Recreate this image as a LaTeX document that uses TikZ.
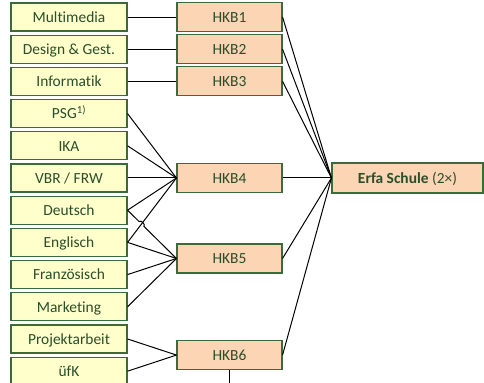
\documentclass[tikz,border=0pt]{standalone}
\usepackage{fontspec}
\setmainfont{Carlito}[Ligatures = NoCommon]
\usetikzlibrary{positioning,calc}

\definecolor{rand}{HTML}{3B6B3B}
\definecolor{schrift}{HTML}{2A4D2B}
\definecolor{gelb}{HTML}{FFFFCC}
\definecolor{lachs}{HTML}{FCD5B4}

\tikzset{fach/.style = {draw = rand, fill = gelb, line width = 1.1pt, text = schrift,
                        minimum width = 116bp, minimum height = 28bp, inner sep = 0pt,
                        text height = 11.5bp, text depth = 1bp,
                        font = \fontsize{15.5}{17}\selectfont},
         hkb/.style = {fach, fill = lachs, minimum width = 105bp, minimum height = 29bp},
         erfa/.style = {hkb, minimum width = 151bp, minimum height = 30bp},
         verb/.style = {draw, line width = 1pt}
        }

\begin{document}
\begin{tikzpicture}[x = 1bp, y = 1bp, node distance = 3.1bp]
  \useasboundingbox (0,0) rectangle (484,-382);
  \clip (0,0) rectangle (484,-382);
  % Faecher
  \node[fach] (mm) at (69,-17) {Multimedia};
  \node[fach, below = of mm]   (dg)   {Design \& Gest.};
  \node[fach, below = of dg]   (inf)  {Informatik};
  \node[fach, below = of inf]  (psg)  {PSG\textsuperscript{1)}};
  \node[fach, below = of psg]  (ika)  {IKA};
  \node[fach, below = of ika]  (vbr)  {VBR / FRW};
  \node[fach, below = of vbr]  (deu)  {Deutsch};
  \node[fach, below = of deu]  (eng)  {Englisch};
  \node[fach, below = of eng]  (fra)  {Französisch};
  \node[fach, below = of fra]  (mkt)  {Marketing};
  \node[fach, below = of mkt]  (proj) {Projektarbeit};
  \node[fach, below = of proj] (ufk)  {üfK};
  % HKB
  \node[hkb] (hkb1) at (229.5,-17 |- mm)  {HKB1};
  \node[hkb] (hkb2) at (229.5,-17 |- dg)  {HKB2};
  \node[hkb] (hkb3) at (229.5,-17 |- inf) {HKB3};
  \node[hkb] (hkb4) at (229.5,-17 |- vbr) {HKB4};
  \node[hkb] (hkb5) at ($(229.5,-17 |- eng)!0.5!(229.5,-17 |- fra)$)   {HKB5};
  \node[hkb] (hkb6) at ($(229.5,-17 |- proj)!0.5!(229.5,-17 |- ufk)$)  {HKB6};
  \node[erfa] (erfa) at (407.5,-17 |- hkb4) {\textbf{Erfa Schule} (2×)};
  \coordinate (unten) at ($(hkb6.south) + (0,-30)$);

  % Verbindungen
  \draw[verb] (mm.east) -- (hkb1.west);
  \draw[verb] (dg.east) -- (hkb2.west);
  \draw[verb] (inf.east) -- (hkb3.west);
  \foreach \f in {psg, ika, vbr, deu, eng}
    \draw[verb] (\f.east) -- (hkb4.west);
  \draw[verb] (deu.east) -- ($(deu.east)!0.235!(hkb5.west)$)
              to[bend left = 90] ($(deu.east)!0.335!(hkb5.west)$) -- (hkb5.west);
  \foreach \f in {eng, fra, mkt}
    \draw[verb] (\f.east) -- (hkb5.west);
  \foreach \f in {proj, ufk}
    \draw[verb] (\f.east) -- (hkb6.west);
  \foreach \h in {hkb1, hkb2, hkb3, hkb4, hkb5, hkb6}
    \draw[verb] (\h.east) -- (erfa.west);
  \draw[verb] (hkb6.south) -- (unten);
\end{tikzpicture}
\end{document}
